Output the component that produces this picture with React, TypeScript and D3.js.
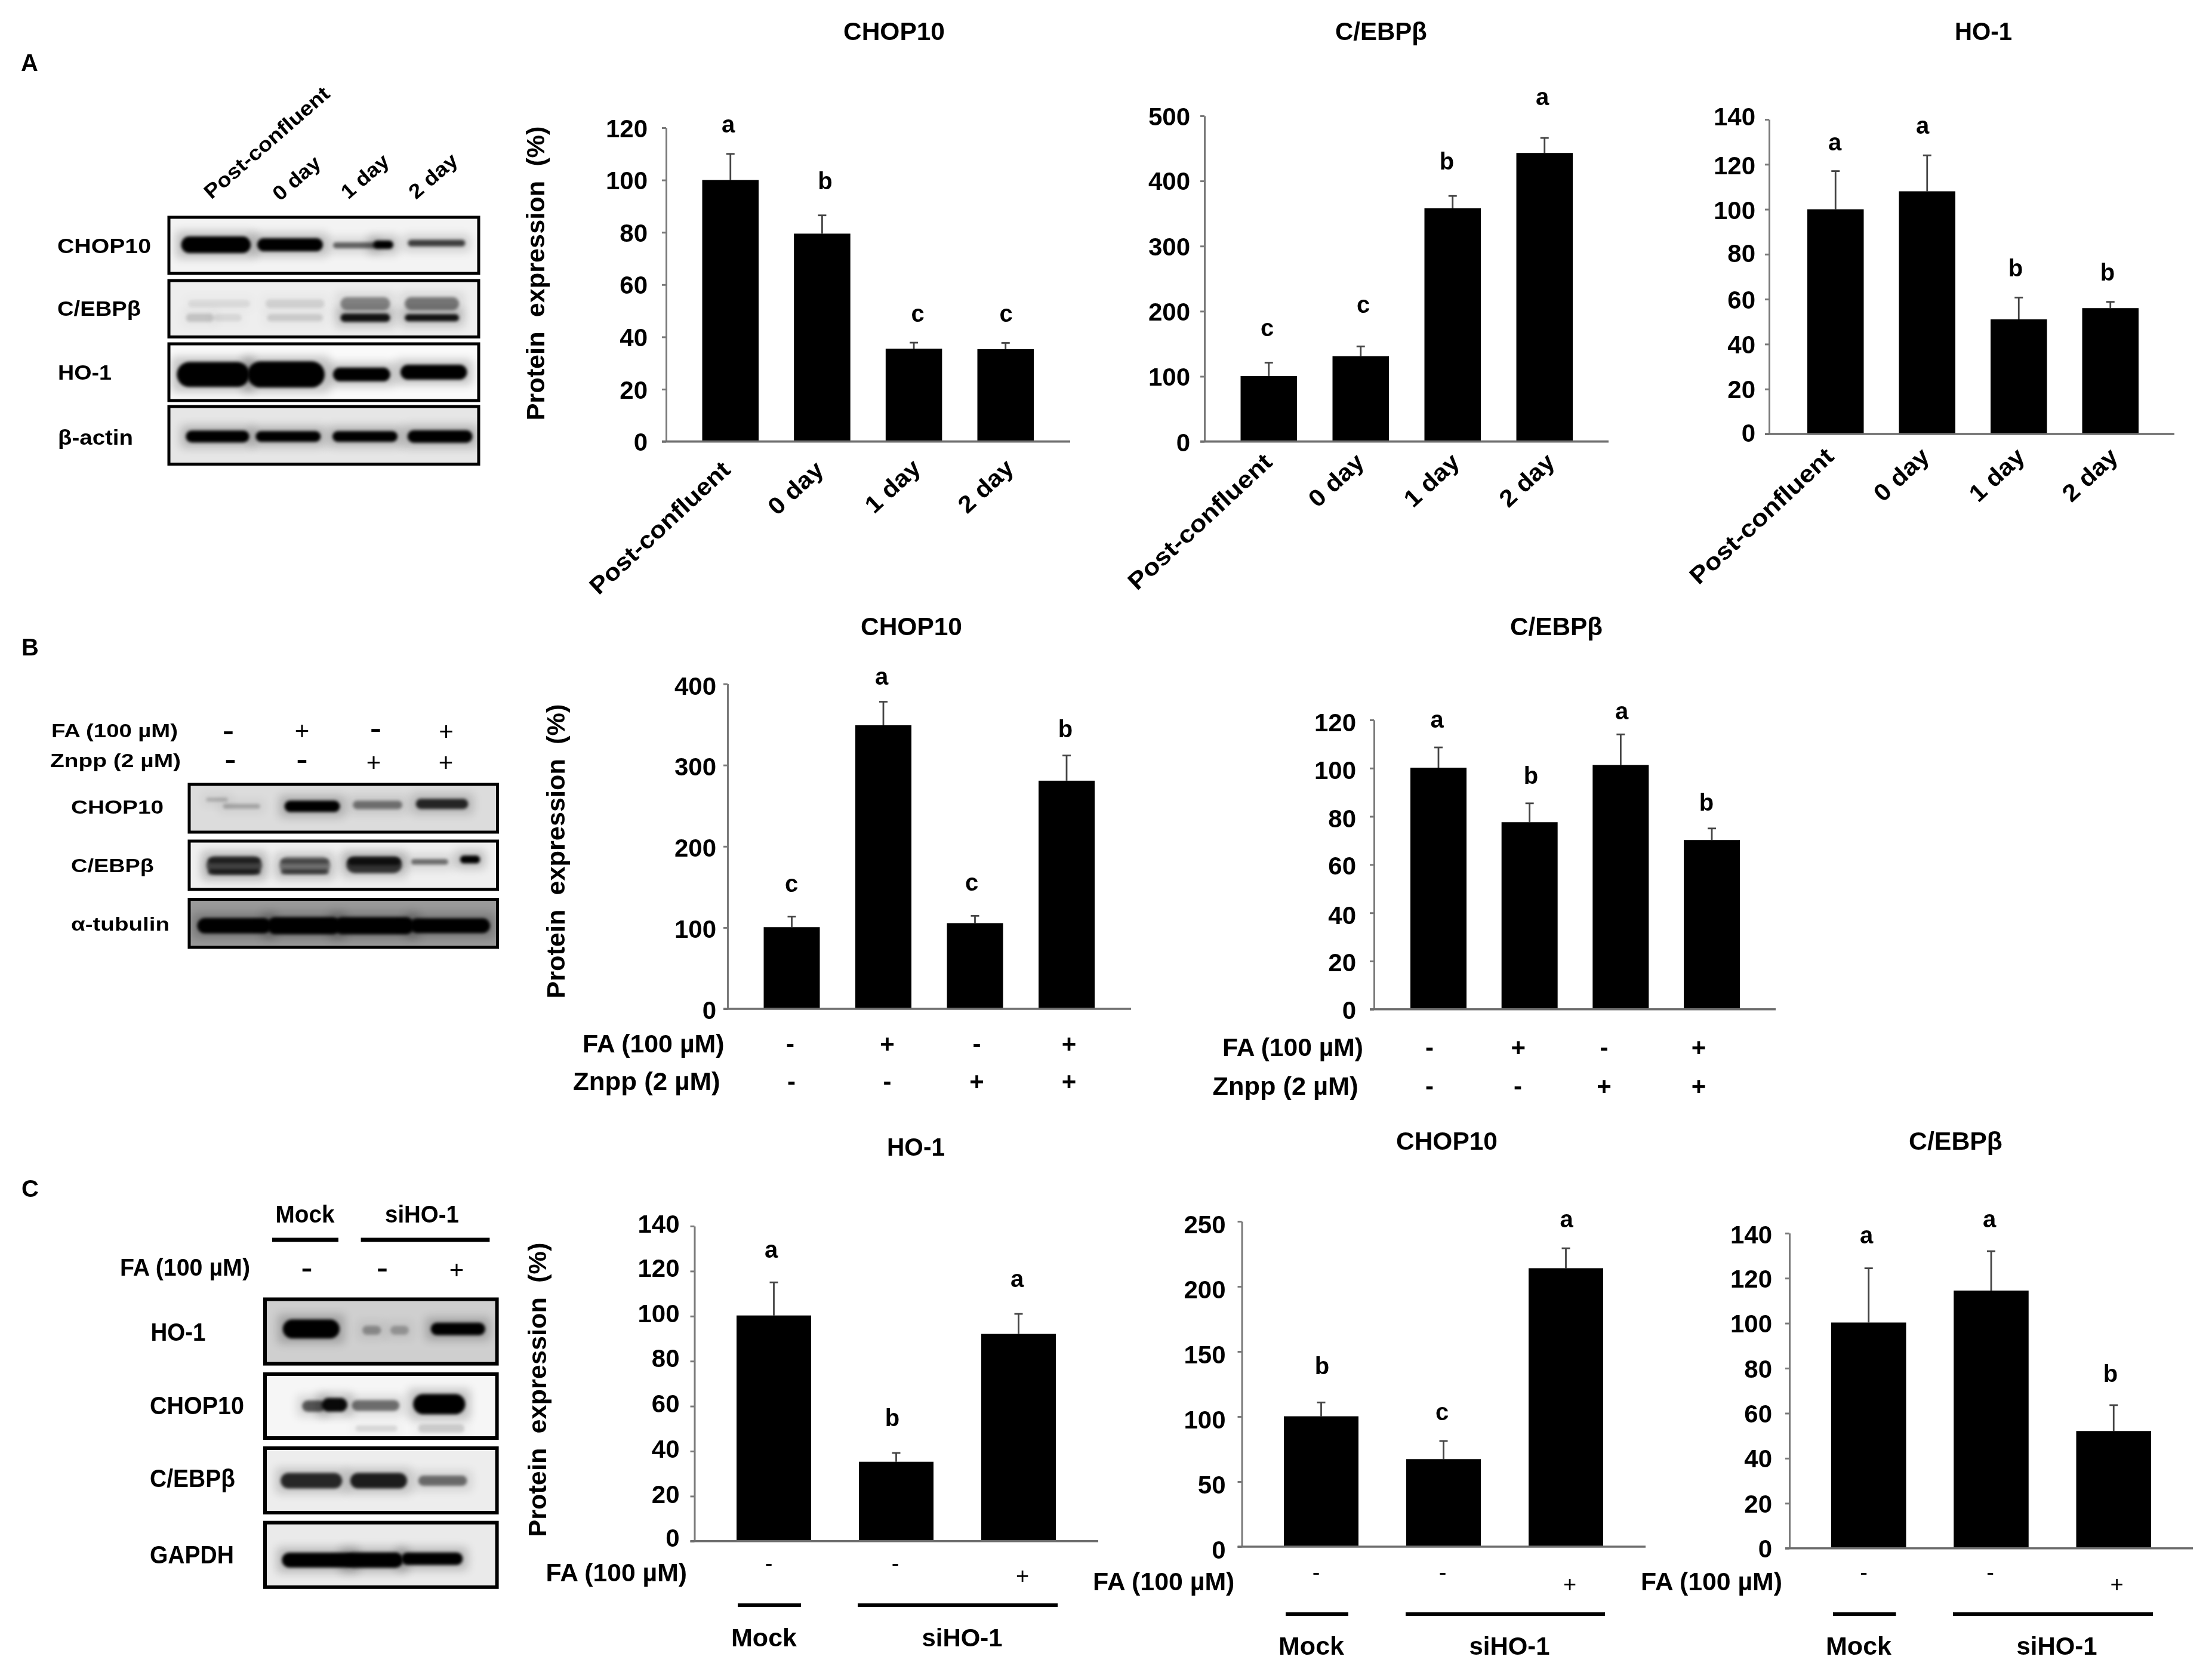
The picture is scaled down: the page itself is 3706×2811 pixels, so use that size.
import React, { useEffect, useRef } from "react";
import * as d3 from "d3";

// ---------- data ----------
const timeCats = ["Post-confluent", "0 day", "1 day", "2 day"];
const treatCats = ["ctrl", "FA", "Znpp", "FA+Znpp"];
const siCats = ["Mock -", "siHO-1 -", "siHO-1 +"];

const aChopValues = [100, 79.5, 35.5, 35.3];
const aChopErrors = [110, 86.5, 37.8, 37.7];
const aChopLetters = ["a", "b", "c", "c"];
const aCebpValues = [100.5, 131, 358, 443];
const aCebpErrors = [121, 146, 377, 466];
const aCebpLetters = ["c", "c", "b", "a"];
const aHoValues = [100, 108, 51, 56];
const aHoErrors = [117, 124, 60.7, 58.8];
const aHoLetters = ["a", "a", "b", "b"];

const bChopValues = [100.5, 349, 105.5, 280.8];
const bChopErrors = [113.6, 378, 114.4, 311.8];
const bChopLetters = ["c", "a", "c", "b"];
const bCebpValues = [100.2, 77.6, 101.3, 70.2];
const bCebpErrors = [108.6, 85.4, 114, 75];
const bCebpLetters = ["a", "b", "a", "b"];

const cHoValues = [100.3, 35.3, 92.1];
const cHoErrors = [115, 39.2, 101];
const cHoLetters = ["a", "b", "a"];
const cChopValues = [100.2, 67.3, 214];
const cChopErrors = [110.8, 81.2, 229.3];
const cChopLetters = ["b", "c", "a"];
const cCebpValues = [100.3, 114.5, 52.1];
const cCebpErrors = [124.4, 132, 63.6];
const cCebpLetters = ["a", "a", "b"];

const ticks120 = [0, 20, 40, 60, 80, 100, 120];
const ticks140 = [0, 20, 40, 60, 80, 100, 120, 140];
const ticks500 = [0, 100, 200, 300, 400, 500];
const ticks400 = [0, 100, 200, 300, 400];
const ticks250 = [0, 50, 100, 150, 200, 250];

const faSigns = ["-", "+", "-", "+"];
const znppSigns = ["-", "-", "+", "+"];
const siFaSigns = ["-", "-", "+"];

const yTitle = "Protein  expression  (%)";
const faLabel = "FA (100 µM)";
const znLabel = "Znpp (2 µM)";

// ---------- layout ----------
const FONT = "'Liberation Sans', Arial, sans-serif";
const panels: any[] = [
  { title: "CHOP10", tx: 1413, tlen: 170, ty: 67, cats: timeCats, v: aChopValues, e: aChopErrors, l: aChopLetters, ticks: ticks120,
    ax: 1116, top: 214, bot: 739.6, right: 1793, b0: 1176.5, b1: 1732, gap: 31, shift: [0, 0, 0, 0, 0, 0, 0],
    lp: [[1220, 222], [1382.5, 317], [1537.5, 539], [1685.5, 539]],
    rot: { ends: [[1226, 790], [1382.5, 790], [1545, 787], [1701, 787]], lens: [305, 110, 110, 110] } },
  { title: "C/EBPβ", tx: 2237, tlen: 154, ty: 67, cats: timeCats, v: aCebpValues, e: aCebpErrors, l: aCebpLetters, ticks: ticks500,
    ax: 2018, top: 194, bot: 739.6, right: 2695, b0: 2078.5, b1: 2635, gap: 24, shift: [1, 0, 0, 0, -1, 0],
    lp: [[2123, 563], [2284, 524], [2424, 284], [2584, 175.6]],
    rot: { ends: [[2134, 777], [2288, 777], [2448, 777], [2607.6, 777]], lens: [313, 110, 110, 110] } },
  { title: "HO-1", tx: 3275, tlen: 96, ty: 67, cats: timeCats, v: aHoValues, e: aHoErrors, l: aHoLetters, ticks: ticks140,
    ax: 2964, top: 200, bot: 727, right: 3643, b0: 3028, b1: 3583, gap: 23, shift: [-3, 0, 0, 0, -2, 1, 1, -6],
    lp: [[3074, 252], [3221, 224.4], [3377, 463], [3531, 470]],
    rot: { ends: [[3075, 767.6], [3235, 767.6], [3395, 768], [3551, 768]], lens: [313, 110, 110, 110] } },
  { title: "CHOP10", tx: 1442, tlen: 170, ty: 1064, cats: treatCats, v: bChopValues, e: bChopErrors, l: bChopLetters, ticks: ticks400,
    ax: 1219, top: 1145.6, bot: 1690, right: 1895, b0: 1279.5, b1: 1834, gap: 19, shift: [1.5, 2, 2, 1.5, 3],
    lp: [[1326, 1494], [1477, 1147], [1628, 1492], [1785, 1235]],
    signs: { fa: { x: 976, y: 1763, len: 237.6, sx: [1324, 1486.5, 1636.6, 1791] }, zn: { x: 960, y: 1826, len: 246.6, sx: [1326, 1486.5, 1636.6, 1791] } } },
  { title: "C/EBPβ", tx: 2530, tlen: 155, ty: 1064, cats: treatCats, v: bCebpValues, e: bCebpErrors, l: bCebpLetters, ticks: ticks120,
    ax: 2302, top: 1206, bot: 1690.8, right: 2975, b0: 2363, b1: 2915, gap: 30, shift: [1, 1.5, 3, 1.5, 3, 3, 3.5],
    lp: [[2407.6, 1218.5], [2565, 1313], [2717, 1205], [2859, 1358]],
    signs: { fa: { x: 2048, y: 1768.6, len: 236, sx: [2395, 2543.7, 2687.5, 2846] }, zn: { x: 2031.6, y: 1834, len: 244, sx: [2395, 2543, 2687.5, 2846] } } },
  { title: "HO-1", tx: 1486, tlen: 97, ty: 1936.4, cats: siCats, v: cHoValues, e: cHoErrors, l: cHoLetters, ticks: ticks140,
    ax: 1163.5, top: 2054, bot: 2581.8, right: 1840, b0: 1234, b1: 1769, gap: 25, shift: [-6, -4, -5, -5, -6, -5, -6, -5],
    lp: [[1292, 2107], [1495, 2389.4], [1704, 2156]],
    si: { fx: 914.5, fy: 2649, flen: 236.5, sx: [1288, 1500, 1713], minusY: 2632, plusY: 2653, lineY: 2689, m: [1236, 1342], s: [1437, 1772], mockX: 1280, siX: 1612, textY: 2757.6 } },
  { title: "CHOP10", tx: 2339, tlen: 170, ty: 1925.7, cats: siCats, v: cChopValues, e: cChopErrors, l: cChopLetters, ticks: ticks250,
    ax: 2080.5, top: 2046, bot: 2591, right: 2757, b0: 2151, b1: 2686, gap: 27, shift: [4, 4, 4, 4, 4, 4],
    lp: [[2215, 2301.6], [2416, 2379], [2624.6, 2055.8]],
    si: { fx: 1831, fy: 2663.8, flen: 237.4, sx: [2205, 2417, 2630], minusY: 2647, plusY: 2667, lineY: 2704, m: [2154, 2259], s: [2355, 2689], mockX: 2197, siX: 2529, textY: 2771.8 } },
  { title: "C/EBPβ", tx: 3198, tlen: 157, ty: 1925.7, cats: siCats, v: cCebpValues, e: cCebpErrors, l: cCebpLetters, ticks: ticks140,
    ax: 2998, top: 2065.8, bot: 2593.7, right: 3674, b0: 3068, b1: 3604, gap: 29, shift: [0, 0, 0, 0, 0, 0, 0, 2],
    lp: [[3127, 2083], [3333, 2055.8], [3536, 2315]],
    si: { fx: 2749, fy: 2663.8, flen: 237, sx: [3122.6, 3334.6, 3546.7], minusY: 2647, plusY: 2667, lineY: 2704, m: [3071, 3176.5], s: [3272, 3607], mockX: 3114, siX: 3446, textY: 2771.8 } },
];
const barWidths = [94.5, 94.5, 94.5, 94, 94, 125, 125, 125.5];
const yTitles = [[912, 704.5], [945.6, 1672.7], [914.5, 2574.7]];

// blot rows: frame box, background, bands as [centre x, width] in frame fractions, centre y fraction, height px, darkness
const blots: any[] = [
  { x0: 283, x1: 802, sw: 5, size: 35, rows: [
    { y0: 364, y1: 458, bg: "#f3f3f3", label: "CHOP10", lx: 96, ly: 424, len: 157, bands: [[.152, .225, .49, 28, 1], [.391, .212, .49, 22, 1], [.6, .14, .5, 10, .55], [.692, .065, .49, 14, 1], [.864, .185, .46, 11, .7]] },
    { y0: 470, y1: 564.5, bg: "#eeeeee", label: "C/EBPβ", lx: 96, ly: 529, len: 140, bands: [[.162, .2, .41, 12, .07], [.1, .09, .66, 14, .15], [.19, .09, .66, 12, .08], [.407, .19, .41, 14, .1], [.407, .18, .66, 12, .12], [.634, .16, .41, 22, .4], [.634, .16, .66, 14, .9], [.849, .175, .41, 22, .45], [.849, .175, .66, 12, .9]] },
    { y0: 576, y1: 671, bg: "#fafafa", label: "HO-1", lx: 97, ly: 636, len: 90, bands: [[.143, .235, .54, 42, 1], [.378, .25, .54, 44, 1], [.622, .185, .54, 23, 1], [.855, .215, .5, 25, 1]] },
    { y0: 681, y1: 777.5, bg: "#e6e6e6", label: "β-actin", lx: 97, ly: 745, len: 126, bands: [[.157, .205, .52, 20, 1], [.385, .21, .52, 18, 1], [.633, .21, .52, 18, 1], [.875, .21, .52, 21, 1]] },
  ] },
  { x0: 317, x1: 833.5, sw: 5, size: 31, rows: [
    { y0: 1314, y1: 1394, bg: "#dcdcdc", label: "CHOP10", lx: 119, ly: 1363, len: 155, bands: [[.09, .07, .32, 7, .18], [.17, .12, .46, 8, .22], [.399, .18, .46, 19, 1], [.611, .16, .43, 14, .45], [.82, .17, .41, 17, .8]] },
    { y0: 1409, y1: 1490, bg: "#efefef", label: "C/EBPβ", lx: 119, ly: 1461, len: 139, bands: [[.146, .18, .5, 30, .62], [.146, .17, .4, 9, .55], [.146, .17, .64, 9, .6], [.375, .165, .5, 28, .42], [.375, .155, .42, 7, .4], [.375, .155, .64, 8, .5], [.6, .18, .49, 28, .72], [.6, .17, .42, 12, .7], [.78, .12, .43, 9, .5], [.911, .065, .38, 13, 1]] },
    { y0: 1506.5, y1: 1587, bg: "#9a9a9a", label: "α-tubulin", lx: 119, ly: 1558.5, len: 165, bands: [[.146, .24, .55, 26, 1], [.372, .24, .55, 29, 1], [.6, .26, .55, 29, 1], [.846, .26, .55, 25, 1]] },
  ] },
  { x0: 444, x1: 832.6, sw: 6, size: 42, rows: [
    { y0: 2176.5, y1: 2284.6, bg: "#cfcfcf", label: "HO-1", lx: 252.5, ly: 2245.7, len: 92, bands: [[.199, .245, .46, 32, 1], [.46, .08, .48, 15, .3], [.58, .08, .48, 15, .25], [.832, .235, .46, 21, 1]] },
    { y0: 2302, y1: 2409, bg: "#f6f6f6", label: "CHOP10", lx: 251, ly: 2369, len: 158, bands: [[.21, .1, .5, 19, .6], [.3, .11, .48, 23, .95], [.477, .205, .49, 18, .5], [.751, .225, .47, 34, 1], [.48, .18, .85, 10, .1], [.76, .2, .85, 14, .14]] },
    { y0: 2426, y1: 2534, bg: "#ededed", label: "C/EBPβ", lx: 251, ly: 2491, len: 143, bands: [[.2, .265, .505, 26, .8], [.49, .245, .505, 26, .85], [.766, .21, .505, 17, .5]] },
    { y0: 2550.7, y1: 2658.8, bg: "#eaeaea", label: "GAPDH", lx: 251, ly: 2619, len: 141, bands: [[.228, .31, .58, 25, 1], [.47, .25, .58, 26, 1], [.72, .265, .56, 21, 1]] },
  ] },
];
const blotColumnLabels = [
  { t: "Post-confluent", x: 354, y: 335, len: 266 },
  { t: "0 day", x: 469, y: 338, len: 94 },
  { t: "1 day", x: 583.5, y: 335, len: 94 },
  { t: "2 day", x: 697, y: 335, len: 96 },
];
const blotBSigns = [
  { signs: faSigns, xs: [382.6, 506, 629.5, 747.4], ys: [1238, 1239, 1234, 1240] },
  { signs: znppSigns, xs: [386, 506, 626, 747], ys: [1285.5, 1285.5, 1292, 1292] },
];
const blotCSigns = { xs: [514, 640.5, 765], ys: [2138, 2138, 2142] };

export default function App() {
  const ref = useRef<SVGSVGElement>(null);
  useEffect(() => {
    const svg = d3.select(ref.current);
    svg.selectAll("*").remove();
    const defs = svg.append("defs");
    defs.append("filter").attr("id", "core").attr("x", "-30%").attr("y", "-60%").attr("width", "160%").attr("height", "220%")
      .append("feGaussianBlur").attr("stdDeviation", 2.6);
    defs.append("filter").attr("id", "halo").attr("x", "-50%").attr("y", "-150%").attr("width", "200%").attr("height", "400%")
      .append("feGaussianBlur").attr("stdDeviation", 8);

    const txt = (s: string, x: number, y: number, o: any = {}) => {
      const t = svg.append("text").attr("transform", `translate(${x},${y})${o.rot ? ` rotate(${o.rot})` : ""}`)
        .attr("font-family", FONT).attr("font-weight", o.weight ?? "bold").attr("font-size", o.size ?? 42)
        .attr("text-anchor", o.anchor ?? "start").attr("fill", "#000").style("white-space", "pre").text(s);
      if (o.len) t.attr("textLength", o.len).attr("lengthAdjust", "spacingAndGlyphs");
      return t;
    };
    // thick blot dashes and thin blot pluses
    const blotSign = (s: string, x: number, y: number) =>
      s === "-" ? txt(s, x, y, { anchor: "middle", size: 40, len: 19 }) : txt(s, x, y, { anchor: "middle", size: 42, weight: "normal" });

    // panel letters
    txt("A", 35, 119, { size: 40 });
    txt("B", 36, 1098, { size: 40 });
    txt("C", 36, 2004.6, { size: 40 });

    yTitles.forEach(([x, y]) => txt(yTitle, x, y, { rot: -90, len: 493, size: 43 }));

    panels.forEach((p, i) => {
      const y = d3.scaleLinear().domain([0, d3.max(p.ticks) as number]).range([p.bot, p.top]);
      const bw = barWidths[i];
      const step = (p.b1 - p.b0 - bw) / (p.cats.length - 1);
      const x = d3.scaleBand<string>().domain(p.cats).range([p.b0, p.b1]).paddingInner(1 - bw / step).paddingOuter(0);
      const g = svg.append("g");

      p.cats.forEach((c: string, k: number) => {
        const xx = x(c) as number;
        const cx = xx + x.bandwidth() / 2;
        g.append("line").attr("x1", cx).attr("x2", cx).attr("y1", y(p.v[k])).attr("y2", y(p.e[k])).attr("stroke", "#444").attr("stroke-width", 2.8);
        g.append("line").attr("x1", cx - 7).attr("x2", cx + 7).attr("y1", y(p.e[k])).attr("y2", y(p.e[k])).attr("stroke", "#444").attr("stroke-width", 2.8);
        g.append("rect").attr("x", xx).attr("y", y(p.v[k])).attr("width", x.bandwidth()).attr("height", p.bot - y(p.v[k])).attr("fill", "#000");
        txt(p.l[k], p.lp[k][0], p.lp[k][1], { size: 40, anchor: "middle" });
      });

      const axis = g.append("g").attr("transform", `translate(${p.ax},0)`)
        .call(d3.axisLeft(y).tickValues(p.ticks).tickSize(7).tickPadding(p.gap - 7).tickSizeOuter(0) as any);
      axis.selectAll("path,line").attr("stroke", "#7a7a7a").attr("stroke-width", 3);
      axis.selectAll("text").attr("font-family", FONT).attr("font-weight", "bold").attr("font-size", 42).attr("fill", "#000")
        .attr("transform", (_: any, k: number) => `translate(0,${p.shift[k] + 1.6})`);
      const xAxis = d3.scaleLinear().domain([0, 1]).range([p.ax - 7, p.right]);
      g.append("line").attr("x1", xAxis(0)).attr("x2", xAxis(1)).attr("y1", p.bot).attr("y2", p.bot).attr("stroke", "#6e6e6e").attr("stroke-width", 3.6);

      txt(p.title, p.tx, p.ty, { len: p.tlen });

      if (p.rot) {
        p.cats.forEach((c: string, k: number) => {
          txt(c, p.rot.ends[k][0], p.rot.ends[k][1], { rot: -43, anchor: "end", size: 40, len: p.rot.lens[k] });
        });
      }
      if (p.signs) {
        txt(faLabel, p.signs.fa.x, p.signs.fa.y, { len: p.signs.fa.len });
        txt(znLabel, p.signs.zn.x, p.signs.zn.y, { len: p.signs.zn.len });
        faSigns.forEach((s, k) => txt(s, p.signs.fa.sx[k], p.signs.fa.y, { anchor: "middle" }));
        znppSigns.forEach((s, k) => txt(s, p.signs.zn.sx[k], p.signs.zn.y, { anchor: "middle" }));
      }
      if (p.si) {
        const s = p.si;
        txt(faLabel, s.fx, s.fy, { len: s.flen });
        siFaSigns.forEach((m, k) => txt(m, s.sx[k], m === "-" ? s.minusY : s.plusY, { anchor: "middle", weight: "normal", size: 38 }));
        [s.m, s.s].forEach((r: number[]) =>
          g.append("line").attr("x1", r[0]).attr("x2", r[1]).attr("y1", s.lineY).attr("y2", s.lineY).attr("stroke", "#000").attr("stroke-width", 6));
        txt("Mock", s.mockX, s.textY, { anchor: "middle", len: 110 });
        txt("siHO-1", s.siX, s.textY, { anchor: "middle", len: 135 });
      }
    });

    // western blots
    let clipId = 0;
    blots.forEach((b) => {
      const fx = d3.scaleLinear().domain([0, 1]).range([b.x0, b.x1]);
      b.rows.forEach((r: any) => {
        const fy = d3.scaleLinear().domain([0, 1]).range([r.y0, r.y1]);
        const id = `clip${clipId++}`;
        defs.append("clipPath").attr("id", id).append("rect").attr("x", b.x0).attr("y", r.y0).attr("width", b.x1 - b.x0).attr("height", r.y1 - r.y0);
        svg.append("rect").attr("x", b.x0).attr("y", r.y0).attr("width", b.x1 - b.x0).attr("height", r.y1 - r.y0).attr("fill", r.bg);
        const g = svg.append("g").attr("clip-path", `url(#${id})`);
        r.bands.forEach((d: number[]) => {
          const w = (fx(d[1]) as number) - (fx(0) as number);
          const cx = fx(d[0]) as number;
          const cy = fy(d[2]) as number;
          g.append("rect").attr("x", cx - w / 2 - 8).attr("y", cy - d[3] / 2 - 8).attr("width", w + 16).attr("height", d[3] + 16)
            .attr("fill", "#000").attr("opacity", d[4] * 0.22).attr("filter", "url(#halo)");
          g.append("rect").attr("x", cx - w / 2).attr("y", cy - d[3] / 2).attr("width", w).attr("height", d[3]).attr("rx", d[3] / 2)
            .attr("fill", "#000").attr("opacity", d[4]).attr("filter", "url(#core)");
        });
        svg.append("rect").attr("x", b.x0).attr("y", r.y0).attr("width", b.x1 - b.x0).attr("height", r.y1 - r.y0)
          .attr("fill", "none").attr("stroke", "#000").attr("stroke-width", b.sw);
        txt(r.label, r.lx, r.ly, { size: b.size, len: r.len });
      });
    });

    blotColumnLabels.forEach((l) => txt(l.t, l.x, l.y, { rot: -41, size: 34, len: l.len }));

    txt(faLabel, 86, 1235, { size: 31, len: 212 });
    txt(znLabel, 84, 1285, { size: 31, len: 219 });
    blotBSigns.forEach((row) => row.signs.forEach((s, k) => blotSign(s, row.xs[k], row.ys[k])));

    txt("Mock", 461.5, 2048, { size: 40, len: 99 });
    txt("siHO-1", 645, 2048, { size: 40, len: 124 });
    [[456, 567], [604.6, 820.4]].forEach((r) =>
      svg.append("line").attr("x1", r[0]).attr("x2", r[1]).attr("y1", 2077).attr("y2", 2077).attr("stroke", "#000").attr("stroke-width", 7));
    txt(faLabel, 201, 2137, { size: 40, len: 218 });
    siFaSigns.forEach((s, k) => blotSign(s, blotCSigns.xs[k], blotCSigns.ys[k]));
  }, []);

  return (
    <svg ref={ref} width={3706} height={2811} viewBox="0 0 3706 2811"
      style={{ position: "absolute", left: 0, top: 0, background: "#fff", display: "block", filter: "blur(0.7px)" }} />
  );
}
